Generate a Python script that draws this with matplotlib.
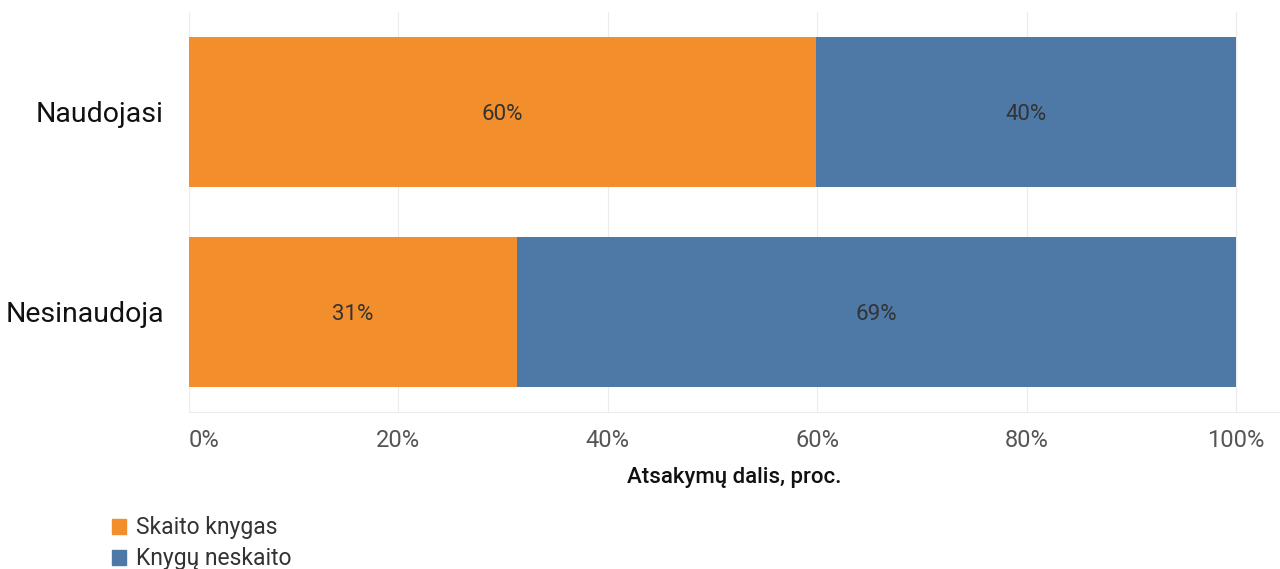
import matplotlib.pyplot as plt
from matplotlib.patches import Patch

plt.rcParams['font.family'] = ['Roboto', 'DejaVu Sans']

categories = ['Naudojasi', 'Nesinaudoja']
skaito = [59.9, 31.3]
neskaito = [40.1, 68.7]
series_names = ['Skaito knygas', 'Knygų neskaito']
colors = ['#F28E2B', '#4E79A7']
ticks = [0, 20, 40, 60, 80, 100]

fig = plt.figure(figsize=(12.8, 5.69), dpi=100)
ax = fig.add_axes([189 / 1280, 1 - 412 / 569, 1 - 189 / 1280, 400 / 569])

ypos = list(range(len(categories)))
ax.barh(ypos, skaito, height=0.75, color=colors[0], zorder=2)
ax.barh(ypos, neskaito, left=skaito, height=0.75, color=colors[1], zorder=2)

for y, a, b in zip(ypos, skaito, neskaito):
    ax.text(a / 2, y + 0.01, f'{round(a)}%', ha='center', va='center', fontsize=16, color='#333333')
    ax.text(a + b / 2, y + 0.01, f'{round(b)}%', ha='center', va='center', fontsize=16, color='#333333')

ax.set_ylim(1.5, -0.5)
ax.set_xlim(0, 104.2)
ax.set_yticks(ypos)
ax.set_yticklabels(categories, fontsize=20.5, color='#111111')
ax.set_xticks(ticks)
ax.set_xticklabels([f'{t}%' for t in ticks], fontsize=17, color='#555555')
ax.get_xticklabels()[0].set_horizontalalignment('left')
ax.tick_params(length=0, axis='x', pad=12)
ax.tick_params(length=0, axis='y', pad=18)
ax.grid(axis='x', color='#ececec', linewidth=0.8, zorder=0)
for s in ['top', 'right', 'left']:
    ax.spines[s].set_visible(False)
ax.spines['bottom'].set_color('#ececec')
ax.set_xlabel('Atsakymų dalis, proc.', fontsize=16, fontweight='medium', color='#111111', labelpad=11)

handles = [Patch(color=c, label=n) for c, n in zip(colors, series_names)]
fig.legend(handles=handles, loc='upper left', bbox_to_anchor=(94 / 1280, 1 - 498 / 569),
           frameon=False, fontsize=16.5, handlelength=0.6, handleheight=0.6,
           handletextpad=0.45, labelspacing=0.35, labelcolor='#333333', borderpad=0.3)

fig.savefig('out.png', dpi=100)
